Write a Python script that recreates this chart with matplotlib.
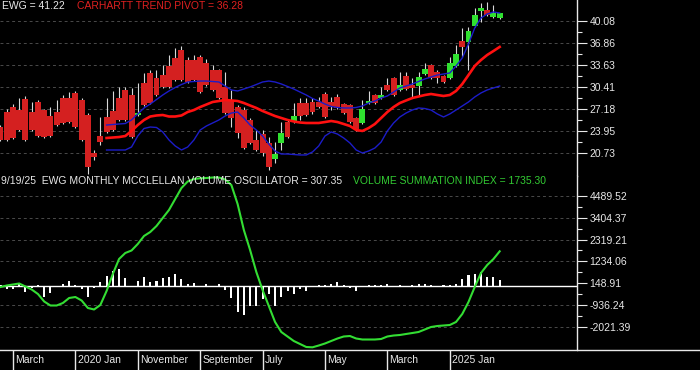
import matplotlib
matplotlib.use('Agg')
import matplotlib.pyplot as plt
from matplotlib.ticker import FixedLocator, NullFormatter
import pandas as pd
import numpy as np

plt.rcParams['font.family'] = ['Liberation Sans', 'DejaVu Sans']

# ---------------- data ----------------
months = pd.period_range('2019-01', '2025-09', freq='M')

opens = [24.54, 26.74, 27.47, 27.03, 28.65, 26.74, 28.21, 27.03, 26.15, 26.74,
         28.79, 28.79, 29.53, 28.50, 26.30, 20.73, 23.22, 26.01, 26.89, 28.79,
         29.97, 29.23, 26.30, 30.99, 32.46, 31.72, 32.16, 33.48, 34.66, 35.83,
         34.36, 34.36, 34.80, 33.92, 32.90, 32.90, 30.41, 28.50, 27.47, 27.03,
         25.57, 22.64, 23.52, 22.20, 19.85, 22.20, 25.27, 25.27, 28.06, 28.06,
         28.21, 28.21, 29.38, 28.21, 28.94, 27.91, 27.77, 25.86, 25.13, 28.06,
         29.23, 28.79, 30.70, 31.72, 29.97, 32.02, 30.70, 30.55, 32.31, 33.63,
         32.60, 32.02, 31.72, 33.48, 37.15, 37.00, 39.35, 41.55, 41.69, 40.67,
         40.52]
highs = [24.83, 27.18, 27.91, 28.79, 29.09, 28.21, 28.50, 27.18, 27.47, 28.50,
         29.23, 29.67, 29.82, 28.79, 26.59, 21.17, 26.01, 28.79, 29.82, 30.41,
         30.41, 30.26, 30.99, 32.46, 32.90, 32.90, 33.63, 35.10, 36.12, 36.41,
         34.80, 35.10, 35.10, 34.51, 33.63, 33.04, 32.60, 29.97, 27.77, 27.47,
         25.86, 24.10, 24.10, 23.08, 22.34, 25.27, 25.71, 28.06, 28.79, 28.79,
         28.79, 28.94, 29.67, 28.94, 29.38, 28.06, 27.91, 26.01, 28.50, 29.82,
         29.38, 30.41, 31.72, 31.87, 32.60, 32.60, 31.72, 32.60, 33.92, 33.78,
         32.90, 32.16, 34.80, 36.56, 39.05, 39.20, 41.99, 42.72, 42.87, 42.43,
         41.25]
lows = [22.49, 22.49, 22.78, 23.96, 22.49, 23.96, 23.08, 22.93, 23.08, 24.69,
        24.98, 25.13, 24.39, 22.49, 17.65, 19.70, 21.90, 23.66, 23.96, 25.42,
        25.42, 22.93, 26.15, 27.62, 27.91, 29.09, 30.26, 30.26, 31.28, 31.28,
        30.99, 31.28, 29.53, 30.55, 29.82, 28.65, 26.45, 24.54, 22.93, 21.32,
        22.05, 21.02, 20.29, 18.24, 19.26, 21.17, 22.93, 25.13, 25.57, 26.15,
        26.45, 27.33, 25.86, 27.03, 27.18, 26.45, 25.13, 23.96, 24.98, 27.91,
        27.91, 28.65, 29.82, 29.09, 29.82, 29.97, 28.94, 29.23, 32.16, 31.58,
        30.99, 30.99, 31.58, 33.34, 34.80, 32.90, 39.20, 39.93, 40.81, 40.52,
        40.37]
closes = [22.64, 22.64, 22.93, 24.10, 22.64, 24.10, 23.22, 23.08, 23.22, 24.83,
          25.13, 25.27, 24.54, 22.64, 18.68, 20.14, 22.34, 23.81, 24.10, 25.57,
          25.57, 23.08, 26.59, 27.77, 28.06, 29.23, 30.41, 30.41, 31.43, 31.43,
          31.14, 31.43, 29.67, 30.70, 29.97, 28.79, 26.59, 25.86, 23.66, 21.46,
          22.20, 21.17, 20.73, 18.68, 20.58, 23.66, 23.08, 26.15, 26.15, 26.30,
          26.74, 27.47, 26.01, 27.47, 27.33, 26.59, 25.27, 24.25, 27.18, 28.35,
          28.06, 29.23, 29.97, 29.23, 30.70, 30.11, 30.26, 31.87, 33.04, 31.72,
          31.72, 31.14, 33.92, 35.24, 36.27, 38.61, 40.96, 41.99, 40.96, 41.25,
          41.22]

# indicator lines start in 2020-06 (index 17)
ind_start = 17
pivot = [22.93, 23.00, 23.07, 23.22, 23.96, 24.83, 25.57, 26.08, 26.23, 26.30,
         26.08, 26.08, 26.23, 26.74, 27.03, 27.47, 27.84, 28.21, 28.35, 28.50,
         28.43, 28.35, 28.06, 27.69, 27.33, 26.89, 26.52, 26.15, 25.86, 25.57,
         25.35, 25.20, 25.13, 25.13, 25.13, 25.27, 25.42, 25.27, 24.98, 24.69,
         24.10, 23.96, 24.39, 24.98, 25.86, 26.74, 27.47, 28.06, 28.43, 28.79,
         29.01, 29.23, 29.38, 29.23, 29.09, 29.23, 29.82, 30.84, 32.16, 33.48,
         34.36, 35.10, 35.68, 36.28]
upper = [24.83, 24.91, 24.98, 25.05, 25.57, 26.45, 27.33, 27.91, 28.57, 29.23,
         29.82, 30.33, 30.77, 31.14, 31.21, 31.28, 31.28, 31.21, 31.14, 30.55,
         29.97, 29.82, 30.11, 30.41, 30.77, 31.14, 31.28, 31.14, 30.85, 30.48,
         30.11, 29.67, 29.23, 28.72, 28.35, 27.91, 27.55, 27.40, 27.33, 27.33,
         27.40, 27.62, 28.06, 28.35, 28.79, 29.09, 29.67, 30.26, 30.55, 30.85,
         31.21, 31.58, 31.87, 32.16, 32.31, 32.46, 33.48, 34.66, 36.71, 39.05,
         40.52, 41.11, 41.40, 41.25]
lower = [21.17, 21.17, 21.17, 21.17, 21.61, 23.22, 24.32, 24.54, 24.47, 23.81,
         22.64, 21.76, 21.17, 21.61, 22.64, 24.10, 24.69, 25.13, 25.57, 26.15,
         26.59, 26.74, 25.86, 24.83, 24.10, 23.22, 22.05, 21.02, 20.58, 20.58,
         20.51, 20.44, 20.44, 20.88, 21.76, 23.22, 23.81, 23.51, 22.93, 22.20,
         21.17, 20.73, 21.02, 21.46, 22.34, 23.96, 25.13, 26.01, 26.59, 27.03,
         27.33, 27.25, 27.03, 26.45, 26.01, 26.45, 27.03, 27.62, 28.21, 28.94,
         29.53, 29.97, 30.26, 30.55]

oscillator = [50, -130, -150, 120, -300, -80, 50, -530, -350, 30,
              100, 250, 60, -150, -530, -80, 200, 500, 750, 870,
              400, 30, 250, 480, 200, 250, 400, 480, 600, 350,
              120, 180, 20, 100, 20, 100, -200, -580, -1270, -1420,
              -960, -990, -630, -380, -990, -550, -220, -380, -130, -220,
              -50, 60, 40, 100, 220, 60, -100, -210, 20, 40,
              60, 80, 110, 20, 70, 20, 70, 90, 100, 60,
              20, 60, 70, 100, 370, 560, 620, 690, 450, 450,
              307.35]
summation = [-35, 40, 89, 139, -10, -159, -382, -754, -952, -952,
             -828, -580, -531, -704, -1076, -1150, -927, -233, 610, 1354,
             1652, 1776, 2098, 2495, 2693, 2990, 3387, 3784, 4329, 4875,
             5197, 5321, 5356, 5371, 5396, 5396, 5296, 5024, 4081, 2792,
             1800, 709, -183, -977, -1770, -2266, -2489, -2712, -2861, -3010,
             -3025, -2936, -2836, -2712, -2589, -2489, -2465, -2589, -2638, -2638,
             -2638, -2613, -2489, -2440, -2415, -2365, -2316, -2266, -2142, -2018,
             -1969, -1944, -1919, -1770, -1374, -778, -35, 660, 1056, 1354,
             1735.30]

price_ticks = [20.73, 23.95, 27.18, 30.41, 33.63, 36.86, 40.08]
osc_ticks = [-2021.39, -936.24, 148.91, 1234.06, 2319.21, 3404.37, 4489.52]
date_label_idx = [2, 12, 22, 32, 42, 52, 62, 72]

# ---------------- figure ----------------
W, H = 700, 370
BG = 'black'
WHITE = '#e8e8e8'
fig = plt.figure(figsize=(W / 100, H / 100), dpi=100, facecolor=BG)

def px_axes(x0, y0, x1, y1):
    return fig.add_axes([x0 / W, 1 - y1 / H, (x1 - x0) / W, (y1 - y0) / H])

ax_p = px_axes(0, 0, 577, 176)
ax_o = px_axes(0, 176, 577, 350)
ax_d = px_axes(0, 350, 577, 370)

x = np.arange(len(months))
xlim = (-0.08, 92.39)

for ax in (ax_p, ax_o, ax_d):
    ax.set_facecolor(BG)
    ax.set_xlim(*xlim)
    for s in ('top', 'left', 'bottom'):
        ax.spines[s].set_visible(False)
    ax.spines['right'].set_color(WHITE)
    ax.spines['right'].set_linewidth(1.0)
    ax.tick_params(axis='x', which='both', bottom=False, labelbottom=False)

ax_d.spines['right'].set_visible(False)
ax_d.set_ylim(0, 1)
ax_d.set_yticks([])

def style_y(ax, ticks, labels):
    ax.yaxis.tick_right()
    ax.set_yticks(ticks)
    ax.set_yticklabels(labels)
    mids = [(a + b) / 2 for a, b in zip(ticks[:-1], ticks[1:])]
    ax.yaxis.set_minor_locator(FixedLocator(mids))
    ax.yaxis.set_minor_formatter(NullFormatter())
    ax.tick_params(axis='y', which='major', length=7.5, width=0.8, color=WHITE,
                   labelcolor=WHITE, labelsize=7.5, pad=1.5, direction='out')
    ax.tick_params(axis='y', which='minor', length=3.8, width=0.8, color=WHITE,
                   direction='out')
    for lab in ax.get_yticklabels():
        lab.set_fontfamily(['Liberation Sans', 'DejaVu Sans'])

# ---- price panel ----
ax_p.set_ylim(17.358, 43.158)
style_y(ax_p, price_ticks, [f'{t:.2f}' for t in price_ticks])
ax_p.hlines(price_ticks, xlim[0], xlim[1], colors='#4a4a4a', linewidth=0.7,
            linestyles=(0, (3, 3)), zorder=1)

ax_p.vlines(x, lows, highs, colors='#d8d8d8', linewidth=0.8, zorder=2)
o = np.array(opens); c = np.array(closes)
up = c >= o
body_col = np.where(up, '#2fe02f', '#d42020')
ax_p.bar(x, np.abs(c - o), bottom=np.minimum(o, c), width=0.95,
         color=body_col, linewidth=0, zorder=3)

xi = x[ind_start:]
ax_p.plot(xi, upper, color='#1c1cc8', linewidth=1.0, zorder=4)
ax_p.plot(xi, lower, color='#1c1cc8', linewidth=1.0, zorder=4)
ax_p.plot(xi, pivot, color='#ff1010', linewidth=1.9, zorder=5)

# ---- oscillator panel ----
ax_o.set_ylim(-3158.8, 5469.9)
style_y(ax_o, osc_ticks, [f'{t:.2f}' for t in osc_ticks])
grid_o = [t for t in osc_ticks if t != 148.91]
ax_o.hlines(grid_o, xlim[0], xlim[1], colors='#4a4a4a', linewidth=0.7,
            linestyles=(0, (3, 3)), zorder=1)
ax_o.axhline(0, color='white', linewidth=1.0, zorder=2)
ax_o.bar(x, oscillator, width=0.33, color='white', linewidth=0, zorder=3)
ax_o.plot(x, summation, color='#33dd33', linewidth=1.5, zorder=4)

# ---- date strip ----
for i in date_label_idx:
    p = months[i]
    lab = f'{p.year} Jan' if p.month == 1 else p.strftime('%B')
    ax_d.axvline(i, color=WHITE, linewidth=1.0)
    ax_d.text(i + 0.35, 0.5, lab, color=WHITE, fontsize=7.5, va='center', ha='left')

fig.add_artist(plt.Line2D([0, 1], [1 - 350 / H, 1 - 350 / H], color=WHITE,
                          linewidth=1.0, transform=fig.transFigure))

# ---- header texts ----
def ftext(xp, yp, s, color):
    fig.text(xp / W, 1 - yp / H, s, color=color, fontsize=7.5, va='center',
             ha='left', zorder=10)

ftext(2, 6, 'EWG = 41.22', WHITE)
ftext(77, 6, 'CARHARTT TREND PIVOT = 36.28', '#e02020')
ftext(1, 181.5, '9/19/25  EWG MONTHLY MCCLELLAN VOLUME OSCILLATOR = 307.35', WHITE)
ftext(353, 181.5, 'VOLUME SUMMATION INDEX = 1735.30', '#33cc33')

fig.savefig('out.png', dpi=100, facecolor=BG)
